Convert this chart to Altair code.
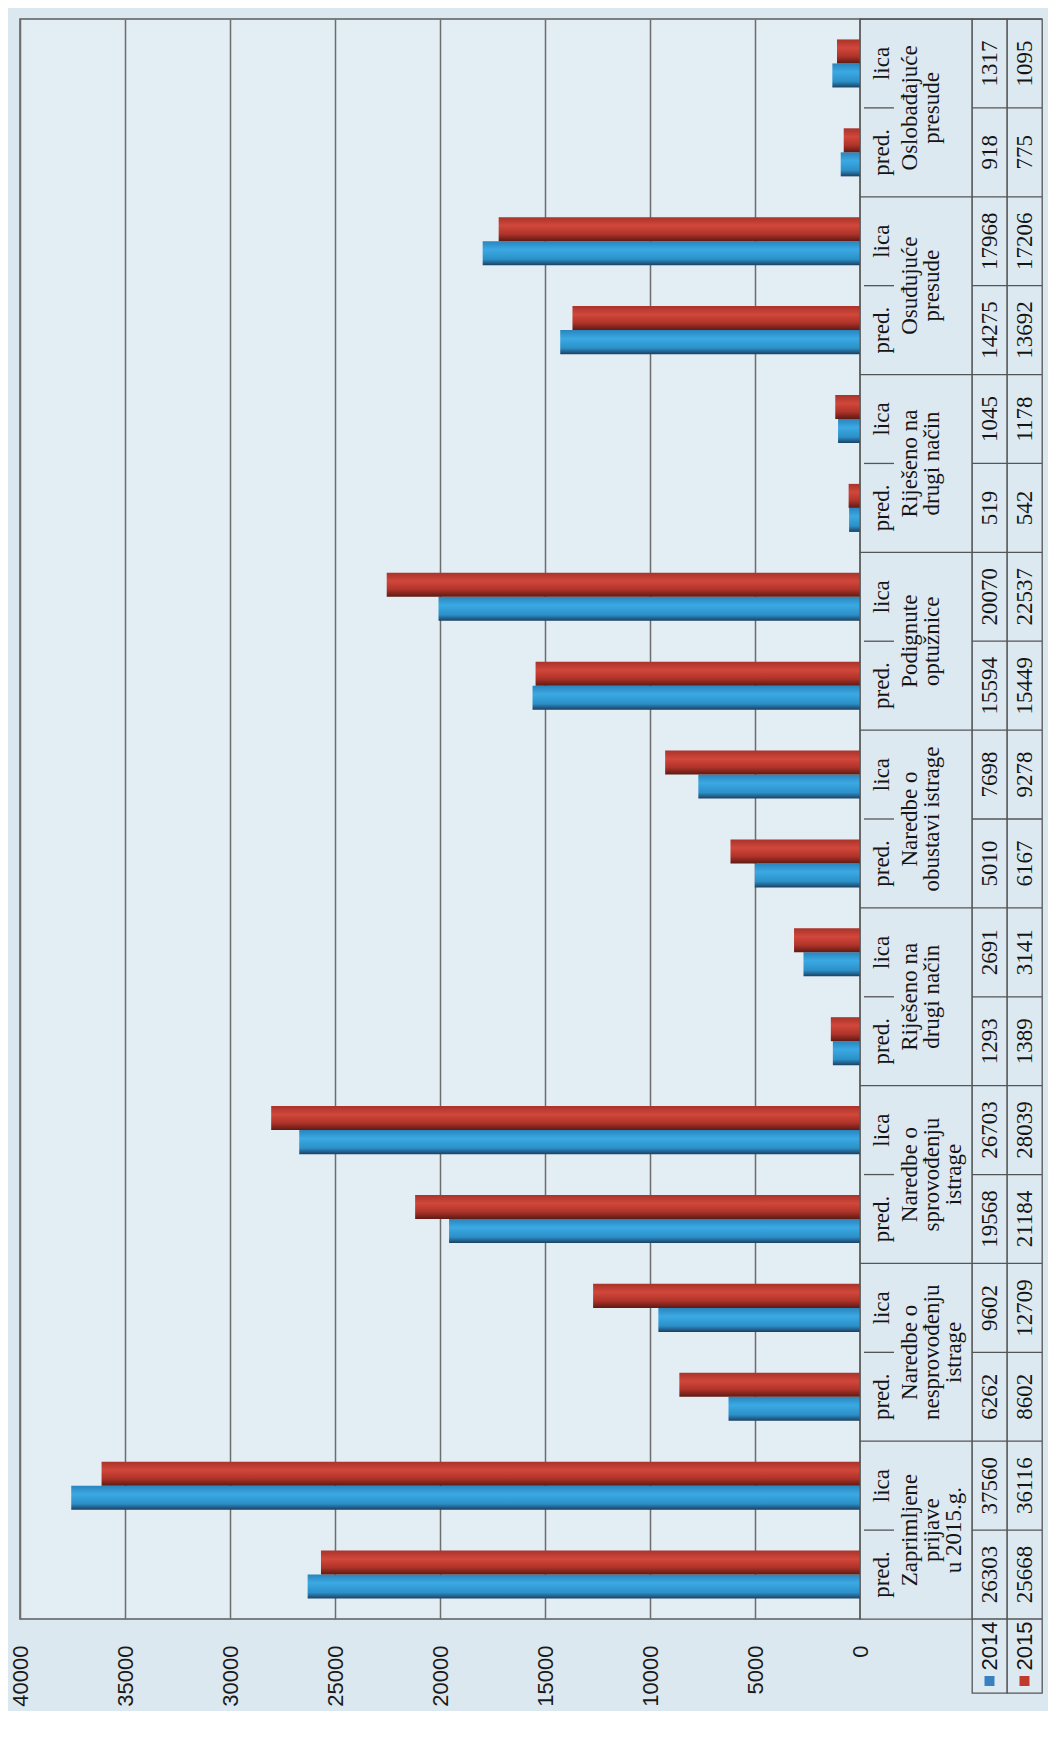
import altair as alt
import pandas as pd

# ---- data ----
groups = [
    "Zaprimljene\nprijave\nu 2015.g.",
    "Naredbe o\nnesprovođenju\nistrage",
    "Naredbe o\nsprovođenju\nistrage",
    "Riješeno na\ndrugi način",
    "Naredbe o\nobustavi istrage",
    "Podignute\noptužnice",
    "Riješeno na\ndrugi način",
    "Osuđujuće\npresude",
    "Oslobađajuće\npresude",
]
pred_2014 = [26303, 6262, 19568, 1293, 5010, 15594, 519, 14275, 918]
lica_2014 = [37560, 9602, 26703, 2691, 7698, 20070, 1045, 17968, 1317]
pred_2015 = [25668, 8602, 21184, 1389, 6167, 15449, 542, 13692, 775]
lica_2015 = [36116, 12709, 28039, 3141, 9278, 22537, 1178, 17206, 1095]
kinds = ["pred.", "lica"]
years = ["2014", "2015"]
ticks = [0, 5000, 10000, 15000, 20000, 25000, 30000, 35000, 40000]

series = {
    ("2014", "pred."): pred_2014,
    ("2014", "lica"): lica_2014,
    ("2015", "pred."): pred_2015,
    ("2015", "lica"): lica_2015,
}

rows = []
for i, g in enumerate(groups):
    for k, kind in enumerate(kinds):
        for yr in years:
            rows.append(dict(cat=f"c{i}{k}", grp=f"g{i}", kind=kind, label=g,
                             year=yr, value=series[(yr, kind)][i]))
df = pd.DataFrame(rows)

cat_order = [f"c{i}{k}" for i in reversed(range(len(groups))) for k in (1, 0)]
grp_order = [f"g{i}" for i in reversed(range(len(groups)))]

# ---- style ----
H = 1600
BAR_W = 840
HDR_W = 112
COL_W = 35
LEG_H = 74
LINE = "#555555"
TXT = "#151515"
SERIF = "Liberation Serif"
SANS = "Liberation Sans"
CELL_BG = "#dde9f1"
FS = 23

ycat = alt.Scale(domain=cat_order, paddingInner=0, paddingOuter=0)
ycat_r = alt.Scale(domain=cat_order, paddingInner=0, paddingOuter=0, range=[0, H])
ygrp = alt.Scale(domain=grp_order, paddingInner=0, paddingOuter=0)

blue_grad = alt.Gradient(
    gradient="linear", x1=0, x2=0, y1=0, y2=1,
    stops=[alt.GradientStop(color="#2a84bd", offset=0),
           alt.GradientStop(color="#3ba9e3", offset=0.35),
           alt.GradientStop(color="#2b90c8", offset=0.75),
           alt.GradientStop(color="#1c3f63", offset=1)])
red_grad = alt.Gradient(
    gradient="linear", x1=0, x2=0, y1=0, y2=1,
    stops=[alt.GradientStop(color="#a9332a", offset=0),
           alt.GradientStop(color="#d1473b", offset=0.35),
           alt.GradientStop(color="#b03329", offset=0.7),
           alt.GradientStop(color="#5c1a14", offset=1)])

# ---- bar panel ----
xenc = alt.X(
    "value:Q",
    scale=alt.Scale(domain=[0, 40000], reverse=True, nice=False),
    axis=alt.Axis(values=ticks, format="d", labelAngle=270, labelAlign="right",
                  labelBaseline="middle", labelPadding=26, ticks=False, tickSize=0,
                  domain=False, grid=True, gridColor="#6e6e6e", gridWidth=1.5,
                  labelFont=SANS, labelFontSize=22, labelColor="#1a1a1a",
                  labelFlush=False, labelOverlap=False, labelBound=False),
    title=None)

bars_base = alt.Chart(df).encode(
    x=xenc,
    y=alt.Y("cat:N", scale=ycat, axis=None),
    yOffset=alt.YOffset("year:N", scale=alt.Scale(domain=["2015", "2014"],
                                                  paddingInner=0, paddingOuter=0.85)),
)
b14 = bars_base.transform_filter(alt.datum.year == "2014").mark_bar(color=blue_grad)
b15 = bars_base.transform_filter(alt.datum.year == "2015").mark_bar(color=red_grad)
bars = alt.layer(b14, b15).properties(
    width=BAR_W, height=H,
    view=alt.ViewBackground(fill="#e2edf4", stroke="#5c5c5c", strokeWidth=1.5))

# ---- header column of the data table ----
cats_df = df[df.year == "2014"]
grps_df = cats_df[cats_df.kind == "pred."]

hdr_rules = alt.Chart(grps_df).mark_rule(color=LINE, strokeWidth=1.3).encode(
    y=alt.Y("grp:N", scale=ygrp, axis=None, bandPosition=0),
    x=alt.value(0), x2=alt.value(HDR_W))
hdr_sep = alt.Chart(grps_df).mark_rule(color=LINE, strokeWidth=1.3).encode(
    y=alt.Y("cat:N", scale=ycat, axis=None, bandPosition=0),
    x=alt.value(4), x2=alt.value(34))
hdr_kind = alt.Chart(cats_df).mark_text(
    font=SERIF, fontSize=FS, angle=270, align="center", baseline="middle", color=TXT
).encode(y=alt.Y("cat:N", scale=ycat, axis=None), x=alt.value(22), text="kind:N")
hdr_grp = alt.Chart(grps_df).mark_text(
    font=SERIF, fontSize=FS, angle=270, align="center", baseline="top",
    lineBreak="\n", lineHeight=22, color=TXT
).encode(y=alt.Y("grp:N", scale=ygrp, axis=None), x=alt.value(39), text="label:N")
header = alt.layer(hdr_rules, hdr_sep, hdr_kind, hdr_grp).resolve_scale(
    y="independent").properties(
    width=HDR_W, height=H,
    view=alt.ViewBackground(fill=CELL_BG, stroke=LINE, strokeWidth=1.3))


def value_column(year, sq_color):
    d = df[df.year == year]
    ld = pd.DataFrame({"year": [year]})
    rules = alt.Chart(d).mark_rule(color=LINE, strokeWidth=1.3).encode(
        y=alt.Y("cat:N", scale=ycat_r, axis=None, bandPosition=0),
        x=alt.value(0), x2=alt.value(COL_W))
    txt = alt.Chart(d).mark_text(
        font=SERIF, fontSize=FS, angle=270, align="center", baseline="middle", color=TXT
    ).encode(y=alt.Y("cat:N", scale=ycat_r, axis=None), x=alt.value(COL_W / 2),
             text=alt.Text("value:Q", format="d"))
    leg_line = alt.Chart(ld).mark_rule(color=LINE, strokeWidth=1.3).encode(
        y=alt.value(H), x=alt.value(0), x2=alt.value(COL_W))
    leg_txt = alt.Chart(ld).mark_text(
        font=SANS, fontSize=22, angle=270, align="center", baseline="middle", color=TXT
    ).encode(x=alt.value(COL_W / 2), y=alt.value(H + 27), text="year:N")
    leg_sq = alt.Chart(ld).mark_square(size=100, opacity=1, color=sq_color).encode(
        x=alt.value(COL_W / 2), y=alt.value(H + 62))
    return alt.layer(rules, txt, leg_line, leg_txt, leg_sq).properties(
        width=COL_W, height=H + LEG_H,
        view=alt.ViewBackground(fill=CELL_BG, stroke=LINE, strokeWidth=1.3))


chart = alt.hconcat(
    bars, header, value_column("2014", "#3a7fc0"), value_column("2015", "#c0392b"),
    spacing=0, bounds="flush"
).properties(
    padding={"left": 0, "top": 9, "right": 4, "bottom": 4},
    background="#dce8f0",
)

chart.save("out.html", embed_options={"renderer": "svg", "actions": False})
